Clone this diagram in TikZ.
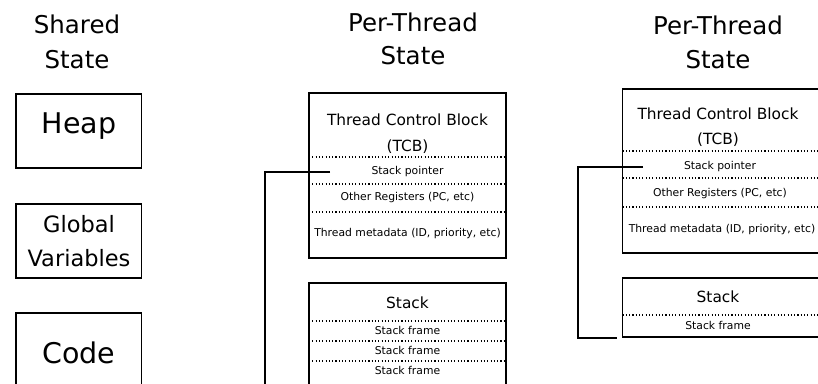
\documentclass[tikz,border=0pt]{standalone}
\usepackage{fontspec}
\setmainfont{DejaVu Sans}
\begin{document}
\begin{tikzpicture}[x=1pt,y=-1pt,
  box/.style={draw,line width=1.2pt,rectangle,inner sep=0pt},
  sep/.style={line width=1.1pt,dash pattern=on 1.1pt off 2.2pt},
  link/.style={line width=1.2pt},
  title/.style={anchor=base,font=\fontsize{24.5}{30}\selectfont},
  big/.style={anchor=base,font=\fontsize{28.5}{34}\selectfont},
  mid/.style={anchor=base,font=\fontsize{22.5}{27}\selectfont},
  head/.style={anchor=base,font=\fontsize{15.4}{18}\selectfont},
  small/.style={anchor=base,font=\fontsize{10.8}{12}\selectfont}]
\useasboundingbox (0,0) rectangle (818,383);
\clip (0,0) rectangle (818,383);

% ---- shared state ----
\node[title] (sh1) at (77,33) {Shared};
\node[title] (sh2) at (77,68) {State};
\draw[box] (16,94) rectangle (141.5,168);
\node[big] (heap) at (79,133) {Heap};
\draw[box] (16,204) rectangle (141.5,278);
\node[mid] (gv1) at (79,232) {Global};
\node[mid] (gv2) at (79,266) {Variables};
\draw[box] (16,313) rectangle (141.5,400);
\node[big] (code) at (79,363) {Code};

% ---- first thread ----
\node[title] (pa1) at (413,31) {Per-Thread};
\node[title] (pa2) at (413,64) {State};
\draw[box] (309,93) rectangle (506,258);
\node[head] (tcba1) at (407.5,125) {Thread Control Block};
\node[head] (tcba2) at (407.5,151) {(TCB)};
\draw[sep] (309,157) -- (506,157);
\node[small] (spa) at (407.5,174) {Stack pointer};
\draw[sep] (309,184) -- (506,184);
\node[small] (ora) at (407.5,200) {Other Registers (PC, etc)};
\draw[sep] (309,212) -- (506,212);
\node[small] (tma) at (407.5,236) {Thread metadata (ID, priority, etc)};
\draw[box] (309,283) rectangle (506,400);
\node[head] (sta) at (407.5,308) {Stack};
\draw[sep] (309,321) -- (506,321);
\node[small] (fa1) at (407.5,334) {Stack frame};
\draw[sep] (309,341) -- (506,341);
\node[small] (fa2) at (407.5,354) {Stack frame};
\draw[sep] (309,361) -- (506,361);
\node[small] (fa3) at (407.5,374) {Stack frame};
\coordinate (ptra) at (330,172);
\coordinate (enda) at (265,390);
\draw[link] (ptra) -| (enda);

% ---- second thread ----
\node[title] (pb1) at (718,34) {Per-Thread};
\node[title] (pb2) at (718,68) {State};
\draw[box] (622.5,89) rectangle (821,253);
\node[head] (tcbb1) at (718,119) {Thread Control Block};
\node[head] (tcbb2) at (718,144) {(TCB)};
\draw[sep] (622.5,151) -- (821,151);
\node[small] (spb) at (720,169) {Stack pointer};
\draw[sep] (622.5,178) -- (821,178);
\node[small] (orb) at (720,196) {Other Registers (PC, etc)};
\draw[sep] (622.5,207) -- (821,207);
\node[small] (tmb) at (722,232) {Thread metadata (ID, priority, etc)};
\draw[box] (622.5,278) rectangle (821,337);
\node[head] (stb) at (718,302) {Stack};
\draw[sep] (622.5,315) -- (821,315);
\node[small] (fb1) at (718,329) {Stack frame};
\coordinate (ptrb) at (643,167);
\coordinate (bendb) at (578,338);
\coordinate (endb) at (617,338);
\draw[link] (ptrb) -| (bendb) -- (endb);
\end{tikzpicture}
\end{document}
